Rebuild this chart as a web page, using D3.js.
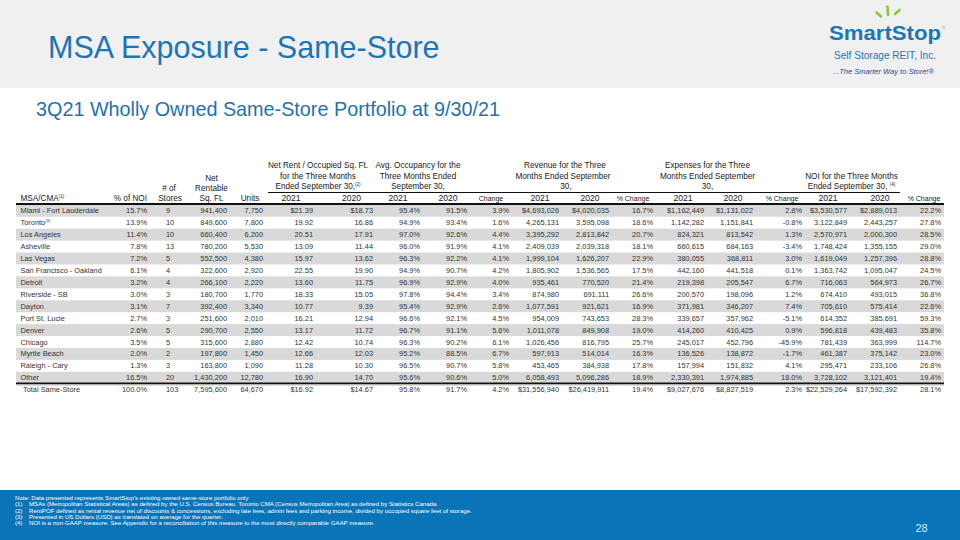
<!DOCTYPE html>
<html><head><meta charset="utf-8">
<script src="https://cdn.jsdelivr.net/npm/d3@7"></script>
<style>body{margin:0;background:#fff}svg{display:block;font-family:"Liberation Sans",Arial,sans-serif}</style>
</head><body><svg id="c" width="960" height="540"></svg>
<script>
// ---------- DATA ----------
const markets = ["Miami - Fort Lauderdale","Toronto","Los Angeles","Asheville","Las Vegas","San Francisco - Oakland","Detroit","Riverside - SB","Dayton","Port St. Lucie","Denver","Chicago","Myrtle Beach","Raleigh - Cary","Other"];
const marketNotes = ["","(3)","","","","","","","","","","","","",""];
const pctOfNOI = [15.7,13.9,11.4,7.8,7.2,6.1,3.2,3.0,3.1,2.7,2.6,3.5,2.0,1.3,16.5];
const storeCount = [9,10,10,13,5,4,4,3,7,3,5,5,2,3,20];
const rentableSqFt = [941400,849600,660400,780200,552500,322600,266100,180700,392400,251600,290700,315600,197800,163800,1430200];
const unitCount = [7750,7800,6200,5530,4380,2920,2220,1770,3340,2010,2550,2880,1450,1090,12780];
const rent2021 = [21.39,19.92,20.51,13.09,15.97,22.55,13.60,18.33,10.77,16.21,13.17,12.42,12.66,11.28,16.90];
const rent2020 = [18.73,16.86,17.91,11.44,13.62,19.90,11.75,15.05,9.39,12.94,11.72,10.74,12.03,10.30,14.70];
const occ2021 = [95.4,94.9,97.0,96.0,96.3,94.9,96.9,97.8,95.4,96.6,96.7,96.3,95.2,96.5,95.6];
const occ2020 = [91.5,93.4,92.6,91.9,92.2,90.7,92.9,94.4,92.9,92.1,91.1,90.2,88.5,90.7,90.6];
const occChange = [3.9,1.6,4.4,4.1,4.1,4.2,4.0,3.4,2.6,4.5,5.6,6.1,6.7,5.8,5.0];
const revenue2021 = [4693026,4265131,3395292,2409039,1999104,1805902,935461,874980,1077591,954009,1011078,1026456,597913,453465,6058493];
const revenue2020 = [4020035,3595098,2813842,2039318,1626207,1536565,770520,691111,921621,743653,849908,816795,514014,384938,5096286];
const revenueChange = [16.7,18.6,20.7,18.1,22.9,17.5,21.4,26.6,16.9,28.3,19.0,25.7,16.3,17.8,18.9];
const expenses2021 = [1162449,1142282,824321,660615,380055,442160,219398,200570,371981,339657,414260,245017,136526,157994,2330391];
const expenses2020 = [1131022,1151841,813542,684163,368811,441518,205547,198096,346207,357962,410425,452796,138872,151832,1974885];
const expensesChange = [2.8,-0.8,1.3,-3.4,3.0,0.1,6.7,1.2,7.4,-5.1,0.9,-45.9,-1.7,4.1,18.0];
const noi2021 = [3530577,3122849,2570971,1748424,1619049,1363742,716063,674410,705610,614352,596818,781439,461387,295471,3728102];
const noi2020 = [2889013,2443257,2000300,1355155,1257396,1095047,564973,493015,575414,385691,439483,363999,375142,233106,3121401];
const noiChange = [22.2,27.8,28.5,29.0,28.8,24.5,26.7,36.8,22.6,59.3,35.8,114.7,23.0,26.8,19.4];
const totalLabel = "Total Same-Store";
const totalValues = [100.0,103,7595600,64670,16.92,14.67,95.8,91.7,4.2,31556940,26419911,19.4,9027676,8827519,2.3,22529264,17592392,28.1];
const footnotes = [
  ["Note:", "Data presented represents SmartStop's existing owned same-store portfolio only"],
  ["(1)", "MSAs (Metropolitan Statistical Areas) as defined by the U.S. Census Bureau. Toronto CMA (Census Metropolitan Area) as defined by Statistics Canada."],
  ["(2)", "RentPOF defined as rental revenue net of discounts & concessions, excluding late fees, admin fees and parking income, divided by occupied square feet of storage."],
  ["(3)", "Presented in US Dollars (USD) as translated on average for the quarter."],
  ["(4)", "NOI is a non-GAAP measure. See Appendix for a reconciliation of this measure to the most directly comparable GAAP measure."]
];

// ---------- FORMATS ----------
const loc = d3.formatLocale({decimal:".", thousands:",", grouping:[3], currency:["$",""], minus:"-"});
const fInt = loc.format(","), fMoney = loc.format("$,"), fPct = v => loc.format(".1f")(v) + "%";
const fRent = loc.format(".2f"), fRentD = loc.format("$.2f");
const money = (v,i,tot) => (i===0||tot) ? fMoney(v) : fInt(v);
const rent = (v,i,tot) => (i===0||tot) ? fRentD(v) : fRent(v);
const pct = v => fPct(v), int = v => fInt(v);

const cols = [
  {v:pctOfNOI, f:pct, x:147, a:"end"},
  {v:storeCount, f:int, x:166, a:"start"},
  {v:rentableSqFt, f:int, x:227, a:"end"},
  {v:unitCount, f:int, x:263, a:"end"},
  {v:rent2021, f:rent, x:313, a:"end"},
  {v:rent2020, f:rent, x:373, a:"end"},
  {v:occ2021, f:pct, x:420, a:"end"},
  {v:occ2020, f:pct, x:467, a:"end"},
  {v:occChange, f:pct, x:509, a:"end"},
  {v:revenue2021, f:money, x:559, a:"end"},
  {v:revenue2020, f:money, x:609, a:"end"},
  {v:revenueChange, f:pct, x:653, a:"end"},
  {v:expenses2021, f:money, x:704, a:"end"},
  {v:expenses2020, f:money, x:753, a:"end"},
  {v:expensesChange, f:pct, x:802, a:"end"},
  {v:noi2021, f:money, x:847, a:"end"},
  {v:noi2020, f:money, x:897, a:"end"},
  {v:noiChange, f:pct, x:941, a:"end"}
];

const svg = d3.select("#c");
const blue = "#1b75b9";

// ---------- PAGE FRAME ----------
svg.append("rect").attr("x",0).attr("y",0).attr("width",960).attr("height",88).attr("fill","#f0f0f0");
svg.append("text").attr("x",48).attr("y",57.5).attr("font-size",30.5).attr("fill",blue).text("MSA Exposure - Same-Store");
svg.append("text").attr("x",36).attr("y",116).attr("font-size",19.8).attr("fill","#1f72b0").text("3Q21 Wholly Owned Same-Store Portfolio at 9/30/21");

// logo
const g = svg.append("g");
[[876.5,12.5,881,16.5],[887.5,6.5,888,15],[899.5,10,895,14]].forEach(l=>{
  g.append("line").attr("x1",l[0]).attr("y1",l[1]).attr("x2",l[2]).attr("y2",l[3]).attr("stroke","#8cc63e").attr("stroke-width",2.6).attr("stroke-linecap","round");
});
g.append("text").attr("x",829).attr("y",39.5).attr("font-size",21).attr("font-weight","bold").attr("fill",blue)
  .attr("textLength",112).attr("lengthAdjust","spacingAndGlyphs").text("SmartStop");
g.append("text").attr("x",942).attr("y",29).attr("font-size",4).attr("fill",blue).text("®");
g.append("text").attr("x",834).attr("y",59).attr("font-size",10.5).attr("fill",blue)
  .attr("textLength",102).attr("lengthAdjust","spacingAndGlyphs").text("Self Storage REIT, Inc.");
g.append("text").attr("x",833).attr("y",74).attr("font-size",7.2).attr("font-style","italic").attr("fill","#1c4f8c")
  .attr("textLength",101).attr("lengthAdjust","spacingAndGlyphs").text("...The Smarter Way to Store!®");

// footer
svg.append("rect").attr("x",0).attr("y",490).attr("width",960).attr("height",50).attr("fill","#0a74b8");
const fn = svg.append("g").attr("font-size",6.1).attr("fill","#ffffff");
footnotes.forEach((d,i)=>{
  const y = 500 + i*6.3;
  if (i===0) fn.append("text").attr("x",15).attr("y",y).text(d[0]+" "+d[1]);
  else { fn.append("text").attr("x",15).attr("y",y).text(d[0]); fn.append("text").attr("x",29).attr("y",y).text(d[1]); }
});
svg.append("text").attr("x",921.5).attr("y",532).attr("text-anchor","middle").attr("font-size",11).attr("fill","#dce9f5").text("28");

// ---------- TABLE ----------
const rowIdx = d3.range(markets.length + 1);
const y = d3.scaleBand().domain(rowIdx).range([204.8, 204.8 + 11.93*rowIdx.length]).padding(0);
const tbl = svg.append("g");

// shaded rows
tbl.selectAll("rect.band").data(markets.map((m,i)=>i).filter(i=>i%2===0)).join("rect")
  .attr("x",16).attr("width",928).attr("y",i=>y(i)).attr("height",y.bandwidth()).attr("fill","#d9d9d9");

// header
const hd = tbl.append("g").attr("fill","#222").attr("font-size",8.2);
function ht(x, yy, txt, anchor, size, sup) {
  const t = hd.append("text").attr("x",x).attr("y",yy).attr("text-anchor",anchor||"middle");
  if (size) t.attr("font-size",size);
  t.append("tspan").text(txt);
  if (sup) t.append("tspan").attr("font-size",4.5).attr("dy",-3).text(sup);
  return t;
}
ht(20.5,200.5,"MSA/CMA","start",null,"(1)");
ht(147,200.5,"% of NOI","end");
ht(169,191,"# of"); ht(170,200.5,"Stores");
ht(211.5,181,"Net"); ht(211.5,191,"Rentable"); ht(211.5,200.5,"Sq. Ft.");
ht(250,200.5,"Units");
// groups
ht(318,168,"Net Rent / Occupied Sq. Ft."); ht(318,178.5,"for the Three Months"); ht(318,189,"Ended September 30,",null,null,"(2)");
ht(418,168,"Avg. Occupancy for the"); ht(418,178.5,"Three Months Ended"); ht(418,189,"September 30,");
ht(565,168,"Revenue for the Three"); ht(563,178.5,"Months Ended September"); ht(566,189,"30,");
ht(707.5,168,"Expenses for the Three"); ht(707.5,178.5,"Months Ended September"); ht(707.5,189,"30,");
ht(851.5,178.5,"NOI for the Three Months"); ht(851.5,189,"Ended September 30, ",null,null,"(4)");
// sub headers
const subs = [[291,"2021"],[351.5,"2020"],[398,"2021"],[448,"2020"],[491,"Change",7],[540,"2021"],[590,"2020"],[633,"% Change",7],
              [683,"2021"],[733,"2020"],[782,"% Change",7],[828,"2021"],[880,"2020"],[924,"% Change",7]];
subs.forEach(s=>ht(s[0],200.5,s[1],"middle",s[2]||8.6));

// rules
tbl.append("line").attr("x1",268).attr("x2",900).attr("y1",192.5).attr("y2",192.5).attr("stroke","#111").attr("stroke-width",1.2);
tbl.append("line").attr("x1",16).attr("x2",944).attr("y1",204).attr("y2",204).attr("stroke","#111").attr("stroke-width",1.8);
const totY = y(markets.length);
tbl.append("line").attr("x1",16).attr("x2",944).attr("y1",totY-0.3).attr("y2",totY-0.3).attr("stroke","#111").attr("stroke-width",1.8);
tbl.append("line").attr("x1",16).attr("x2",944).attr("y1",totY+1.2).attr("y2",totY+1.2).attr("stroke","#999").attr("stroke-width",0.8);

// body
const body = tbl.append("g").attr("font-size",7.4).attr("fill","#333");
markets.forEach((m,i)=>{
  const yy = y(i) + 8.5;
  const t = body.append("text").attr("x",20.5).attr("y",yy);
  t.append("tspan").text(m);
  if (marketNotes[i]) t.append("tspan").attr("font-size",4.2).attr("dy",-3).text(marketNotes[i]);
  cols.forEach(c=>{
    body.append("text").attr("x",c.x).attr("y",yy).attr("text-anchor",c.a).text(c.f(c.v[i],i,false));
  });
});
const ty = totY + 8.5;
body.append("text").attr("x",23).attr("y",ty).text(totalLabel);
cols.forEach((c,k)=>{
  body.append("text").attr("x",c.x).attr("y",ty).attr("text-anchor",c.a).text(c.f(totalValues[k],-1,true));
});
</script></body></html>
